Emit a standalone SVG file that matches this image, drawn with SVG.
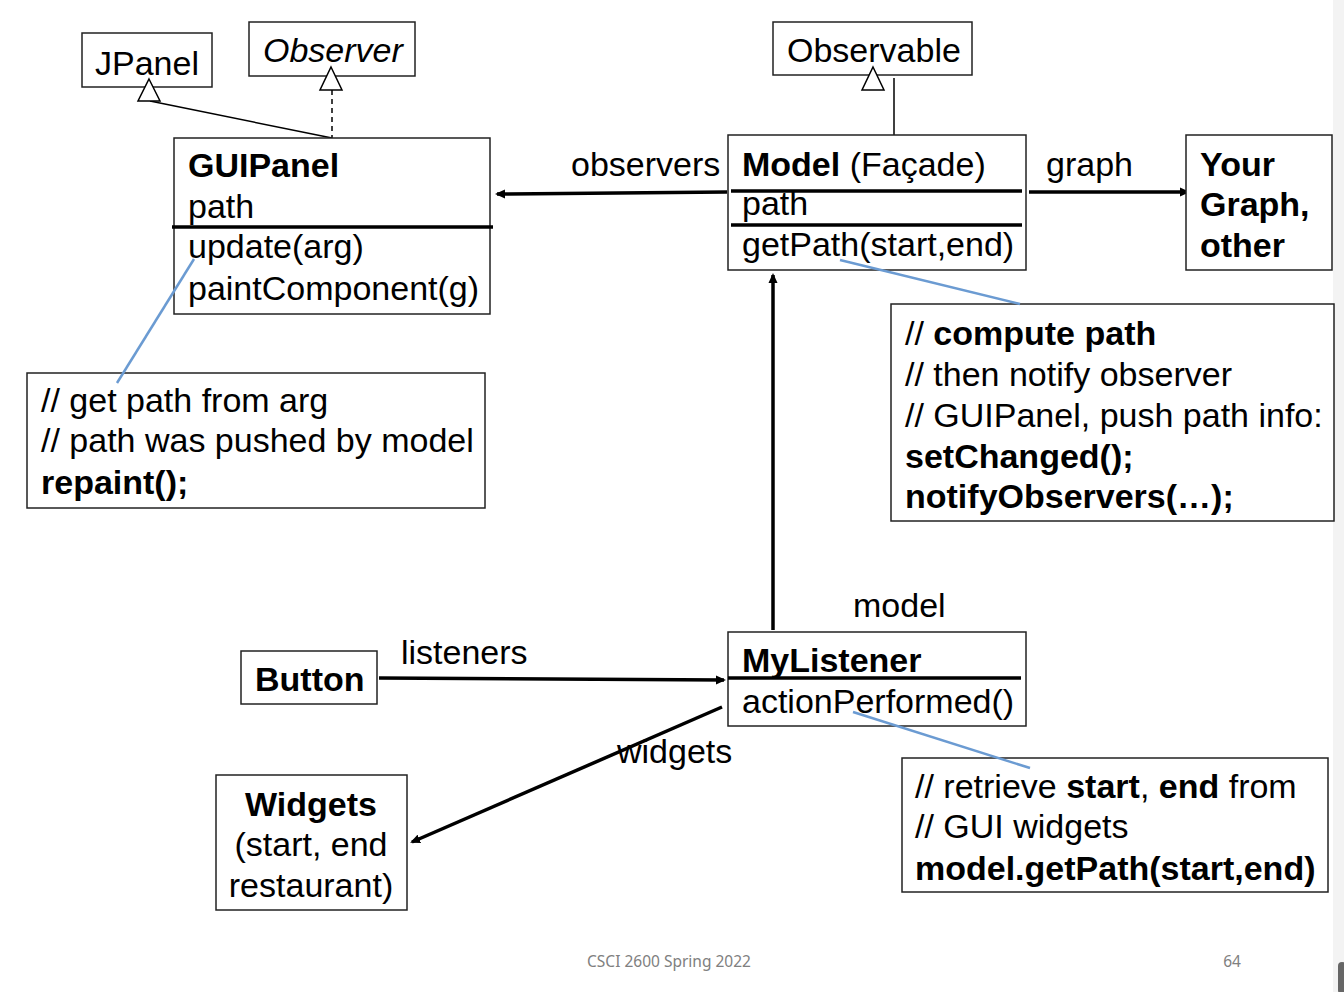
<svg xmlns="http://www.w3.org/2000/svg" width="1344" height="992" viewBox="0 0 1344 992">
<style>
.box{fill:#fff;stroke:#222;stroke-width:1.5}
.t{font-family:"Liberation Sans",Arial,sans-serif;font-size:34px;fill:#000}
.b{font-weight:bold}
.div{stroke:#000;stroke-width:3.5}
.con{stroke:#000;stroke-width:3.5;fill:none}
.thin{stroke:#000;stroke-width:1.5;fill:none}
.note{stroke:#6b9bd2;stroke-width:2.5;fill:none}
.tri{fill:#fff;stroke:#000;stroke-width:1.5}
.foot{font-family:"Noto Sans","Liberation Sans",sans-serif;font-size:15.5px;fill:#808080}
</style>
<defs>
<marker id="ah" markerWidth="10" markerHeight="10" refX="8" refY="5" orient="auto" markerUnits="userSpaceOnUse">
<path d="M0,0.5 L10,5 L0,9.5 z" fill="#000"/>
</marker>
</defs>
<rect width="1344" height="992" fill="#fff"/>
<rect x="1333" y="0" width="11" height="992" fill="#f3f3f3"/>
<rect x="1338" y="962" width="8" height="32" rx="4" fill="#666"/>

<g id="connectors">
<line class="thin" x1="150" y1="101" x2="332" y2="138"/>
<line class="thin" x1="332" y1="90" x2="332" y2="138" stroke-dasharray="5,4"/>
<line class="thin" x1="894" y1="78" x2="894" y2="137"/>
<line class="con" x1="727" y1="192" x2="497" y2="194" marker-end="url(#ah)"/>
<line class="con" x1="1029" y1="192" x2="1188" y2="192" marker-end="url(#ah)"/>
<line class="con" x1="773" y1="630" x2="773" y2="275" marker-end="url(#ah)"/>
<line class="con" x1="379" y1="678" x2="724" y2="680" marker-end="url(#ah)"/>
<line class="con" x1="722" y1="707" x2="412" y2="842" marker-end="url(#ah)"/>
<text class="t" x="571" y="176">observers</text>
<text class="t" x="1046" y="176">graph</text>
<text class="t" x="853" y="617">model</text>
<text class="t" x="401" y="664">listeners</text>
<text class="t" x="617" y="763">widgets</text>
</g>

<g id="jpanel">
<rect class="box" x="82" y="33" width="130" height="54"/>
<text class="t" x="95" y="75">JPanel</text>
<path class="tri" d="M149,79 L160,101 L138,101 z"/>
</g>

<g id="observer">
<rect class="box" x="249" y="22" width="166" height="54"/>
<text class="t" x="263" y="62" font-style="italic">Observer</text>
<path class="tri" d="M331,67 L342,90 L320,90 z"/>
</g>

<g id="observable">
<rect class="box" x="773" y="22" width="199" height="53"/>
<text class="t" x="787" y="62">Observable</text>
<path class="tri" d="M873,67 L884,90 L862,90 z"/>
</g>

<g id="guipanel">
<rect class="box" x="174" y="138" width="316" height="176"/>
<text class="t b" x="188" y="177">GUIPanel</text>
<text class="t" x="188" y="218">path</text>
<line class="div" x1="172" y1="227" x2="493" y2="227"/>
<text class="t" x="188" y="258">update(arg)</text>
<text class="t" x="188" y="300">paintComponent(g)</text>
</g>

<g id="note-gui">
<rect class="box" x="27" y="373" width="458" height="135"/>
<text class="t" x="41" y="412">// get path from arg</text>
<text class="t" x="41" y="452">// path was pushed by model</text>
<text class="t b" x="41" y="494">repaint();</text>
</g>

<g id="model">
<rect class="box" x="728" y="135" width="298" height="135"/>
<text class="t" x="742" y="176"><tspan class="b">Model</tspan> (Façade)</text>
<line class="div" x1="731" y1="191" x2="1022" y2="191"/>
<text class="t" x="742" y="215">path</text>
<line class="div" x1="731" y1="225" x2="1022" y2="225"/>
<text class="t" x="742" y="256">getPath(start,end)</text>
</g>

<g id="yourgraph">
<rect class="box" x="1186" y="135" width="146" height="135"/>
<text class="t b" x="1200" y="176">Your</text>
<text class="t b" x="1200" y="216">Graph,</text>
<text class="t b" x="1200" y="257">other</text>
</g>

<g id="note-model">
<rect class="box" x="891" y="304" width="443" height="217"/>
<text class="t" x="905" y="345">// <tspan class="b">compute path</tspan></text>
<text class="t" x="905" y="386">// then notify observer</text>
<text class="t" x="905" y="427">// GUIPanel, push path info:</text>
<text class="t b" x="905" y="468">setChanged();</text>
<text class="t b" x="905" y="508">notifyObservers(…);</text>
</g>

<g id="mylistener">
<rect class="box" x="728" y="632" width="298" height="94"/>
<text class="t b" x="742" y="672">MyListener</text>
<line class="div" x1="728" y1="678" x2="1021" y2="678"/>
<text class="t" x="742" y="713">actionPerformed()</text>
</g>

<g id="button">
<rect class="box" x="241" y="651" width="136" height="53"/>
<text class="t b" x="255" y="691">Button</text>
</g>

<g id="widgets">
<rect class="box" x="216" y="775" width="191" height="135"/>
<text class="t b" x="311" y="816" text-anchor="middle">Widgets</text>
<text class="t" x="311" y="856" text-anchor="middle">(start, end</text>
<text class="t" x="311" y="897" text-anchor="middle">restaurant)</text>
</g>

<g id="note-listener">
<rect class="box" x="902" y="758" width="426" height="134"/>
<text class="t" x="915" y="798">// retrieve <tspan class="b">start</tspan>, <tspan class="b">end</tspan> from</text>
<text class="t" x="915" y="838">// GUI widgets</text>
<text class="t b" x="915" y="880">model.getPath(start,end)</text>
</g>

<g id="note-links">
<line class="note" x1="194" y1="259" x2="117" y2="383"/>
<line class="note" x1="840" y1="260" x2="1020" y2="304"/>
<line class="note" x1="853" y1="712" x2="1030" y2="768"/>
</g>

<g id="footer">
<text class="foot" x="669" y="967" text-anchor="middle">CSCI 2600 Spring 2022</text>
<text class="foot" x="1232" y="967" text-anchor="middle">64</text>
</g>
</svg>
